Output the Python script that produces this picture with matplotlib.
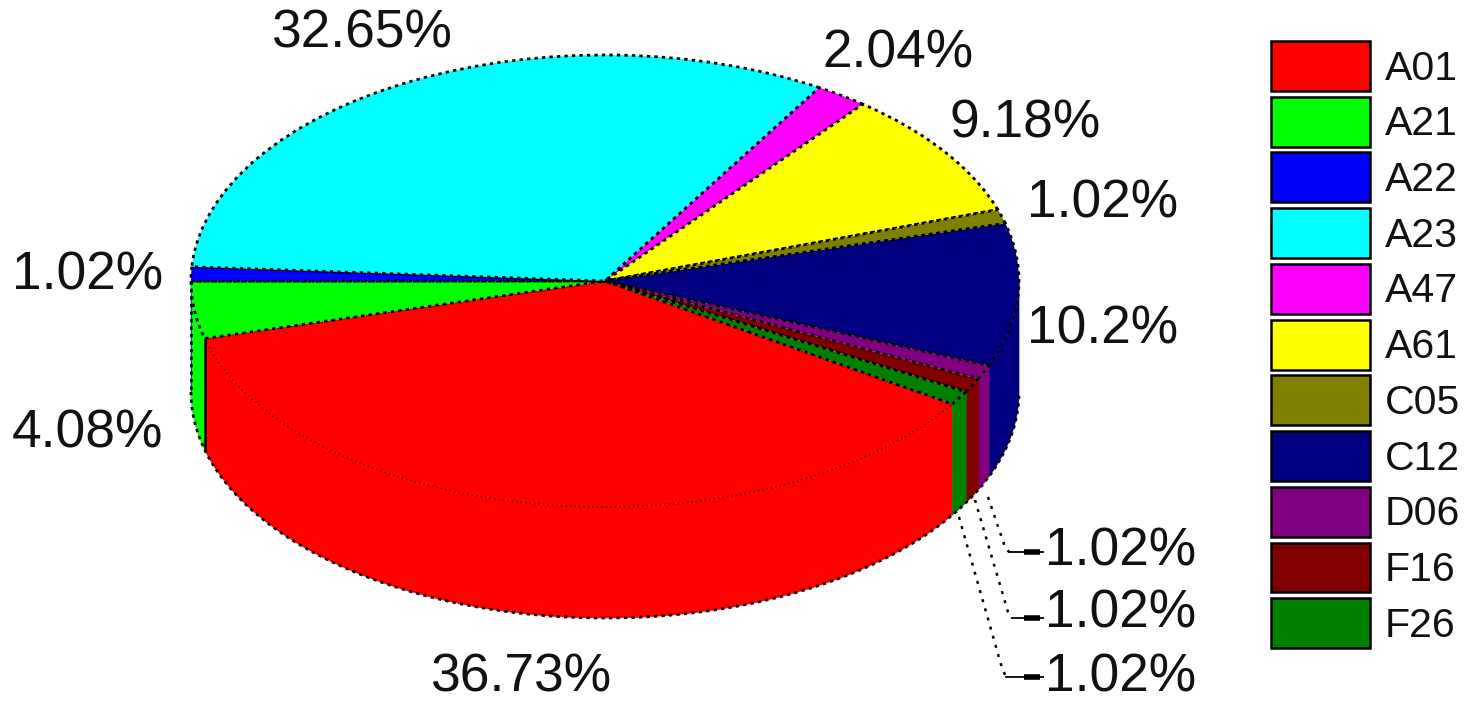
import numpy as np
import matplotlib
matplotlib.use("Agg")
import matplotlib.pyplot as plt
from matplotlib.patches import Patch

categories = ['A01', 'A21', 'A22', 'A23', 'A47', 'A61', 'C05', 'C12', 'D06', 'F16', 'F26']
values = [36.73, 4.08, 1.02, 32.65, 2.04, 9.18, 1.02, 10.2, 1.02, 1.02, 1.02]
colors = ['#ff0000', '#00ff00', '#0000ff', '#00ffff', '#ff00ff', '#ffff00',
          '#808000', '#000080', '#800080', '#800000', '#008000']

# label placement in pixels, same order as values
label_x = [431, 12, 12, 272, 822, 950, 1027, 1027, 1045, 1045, 1045]
label_y = [677, 434, 276, 34, 54, 124, 204, 329, 552, 613, 677]

# dotted leader lines for the three small slices (D06, F16, F26)
leader_x = [[988, 1005, 1009], [975, 1008, 1012], [959, 1002, 1006]]
leader_y = [[497, 547, 552], [500, 612, 618], [517, 668, 677]]

W, H = 1482, 709
CX, CY, RX, RY = 605, 281, 414, 226
DEPTH = 111 / RY
START = -33
DASH = (0, (1.2, 1.5))

plt.rcParams['font.family'] = ['Liberation Sans', 'DejaVu Sans']

fig = plt.figure(figsize=(W / 100, H / 100), dpi=100)

# pie axes: one unit is the radius, so the unequal axis scale squashes the circle
ax = fig.add_axes([0, 0, 1, 1])
wedges, _ = ax.pie(values, colors=colors, startangle=START, counterclock=False, radius=1,
                   wedgeprops=dict(edgecolor='black', linewidth=2.0, linestyle=DASH))
ax.set_aspect('auto')
ax.set_xlim(-CX / RX, (W - CX) / RX)
ax.set_ylim((CY - H) / RY, CY / RY)
ax.axis('off')

# the red slice only has a faint thin edge
wedges[0].set(edgecolor='#8a0000', linewidth=1.2)
for w in wedges:
    w.set_zorder(3)

# side wall, only the front half of the ellipse shows
edges = START - np.cumsum([0] + values) * 3.6
for i in range(len(values)):
    a0, a1 = edges[i], edges[i + 1]
    a0, a1 = (a0 + 360, a1 + 360) if a1 < -180 and a0 < -180 else (a0, a1)
    a0, a1 = min(a0, 0), max(a1, -180)
    if a1 >= a0:
        continue
    t = np.radians(np.linspace(a0, a1, 80))
    xs = np.r_[np.cos(t), np.cos(t[::-1])]
    ys = np.r_[np.sin(t), np.sin(t[::-1]) - DEPTH]
    ax.fill(xs, ys, color=colors[i], linewidth=0.5, zorder=2)

t = np.radians(np.linspace(-180, 0, 300))
ax.plot(np.cos(t), np.sin(t) - DEPTH, color='black', lw=2.0, ls=DASH, zorder=4)
ax.plot(np.full(2, -1), [0, -DEPTH], color='black', lw=2.0, ls=DASH, zorder=4)

# solid edge between green and red on the wall
a = np.radians(edges[1])
ax.plot([np.cos(a)] * 2, [np.sin(a), np.sin(a) - DEPTH], color='black', lw=1.8, zorder=4)

# overlay in pixel coordinates for labels and legend
ov = fig.add_axes([0, 0, 1, 1])
ov.set_xlim(0, W)
ov.set_ylim(H, 0)
ov.axis('off')
ov.patch.set_alpha(0)

for v, x, y in zip(values, label_x, label_y):
    ov.text(x, y, f'{v:g}%', fontsize=38.3, ha='left', va='center', color='#111111')

for xs, ys in zip(leader_x, leader_y):
    ov.plot(xs, ys, color='black', lw=1.8, ls=(0, (1.2, 2.6)), zorder=5)
    ov.plot([xs[-1], 1043], [ys[-1], ys[-1]], color='black', lw=1.3, zorder=5)
    ov.plot([1024, 1040], [ys[-1], ys[-1]], color='black', lw=4, solid_capstyle='butt', zorder=5)

handles = [Patch(facecolor=c, edgecolor='black', linewidth=1.8) for c in colors]
ov.legend(handles, categories, loc='upper left', bbox_to_anchor=(1271, 41),
          bbox_transform=ov.transData, frameon=False, fontsize=29.5,
          borderpad=0, borderaxespad=0, handlelength=2.41, handleheight=1.5,
          handletextpad=0.37, labelspacing=0.14, labelcolor='#111111')

fig.savefig('out.png', dpi=100)
